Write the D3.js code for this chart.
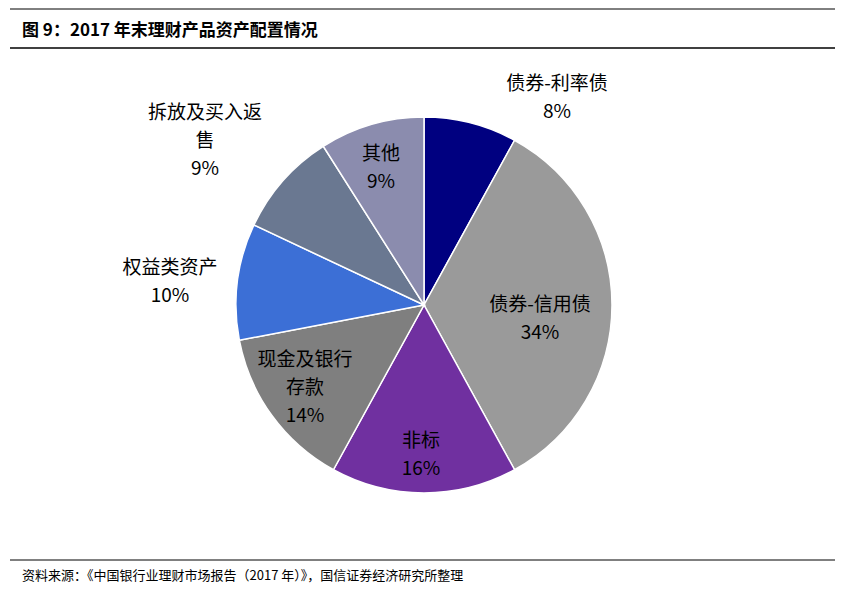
<!DOCTYPE html><html><head><meta charset="utf-8"><script src="https://cdn.jsdelivr.net/npm/d3@7"></script>
<style>body{margin:0;background:#fff}text{font-family:"Noto Sans CJK SC",Arial,sans-serif}</style></head><body>
<svg id="c" width="843" height="597"></svg>
<script>
const categories=["债券-利率债","债券-信用债","非标","现金及银行存款","权益类资产","拆放及买入返售","其他"];
const values=[8,34,16,14,10,9,9];
const colors=["#000080","#9a9a9a","#7030a0","#7f7f7f","#3c6fd6","#6a7891","#8b8cae"];
const labelLines=[["债券-利率债","8%"],["债券-信用债","34%"],["非标","16%"],["现金及银行","存款","14%"],["权益类资产","10%"],["拆放及买入返","售","9%"],["其他","9%"]];
const labelPos=[[557,97],[540,318],[421,454],[305,387],[170,281],[205,140],[381,167]];
const svg=d3.select("#c");
svg.append("line").attr("x1",10).attr("x2",835).attr("y1",9).attr("y2",9).attr("stroke","#000").attr("stroke-width",1);
svg.append("line").attr("x1",10).attr("x2",835).attr("y1",48).attr("y2",48).attr("stroke","#000").attr("stroke-width",1.5);
svg.append("text").attr("x",22).attr("y",36).attr("font-size",17).attr("font-weight","bold").text("图 9：2017 年末理财产品资产配置情况");
svg.append("line").attr("x1",10).attr("x2",835).attr("y1",560).attr("y2",560).attr("stroke","#000").attr("stroke-width",1);
svg.append("text").attr("x",22).attr("y",580).attr("font-size",13).text("资料来源：《中国银行业理财市场报告（2017 年）》，国信证券经济研究所整理");
const pie=d3.pie().sort(null)(values);
const arc=d3.arc().innerRadius(0).outerRadius(188);
const g=svg.append("g").attr("transform","translate(424,305)");
g.selectAll("path").data(pie).join("path").attr("d",arc).attr("fill",(d,i)=>colors[i]).attr("stroke","#fff").attr("stroke-width",1.5);
labelLines.forEach((ls,i)=>{
  const n=ls.length,[x,y]=labelPos[i];
  ls.forEach((t,j)=>svg.append("text").attr("x",x).attr("y",y+(j-(n-1)/2)*28+7).attr("text-anchor","middle").attr("font-size",19).attr("fill","#000").text(t));
});
</script></body></html>
